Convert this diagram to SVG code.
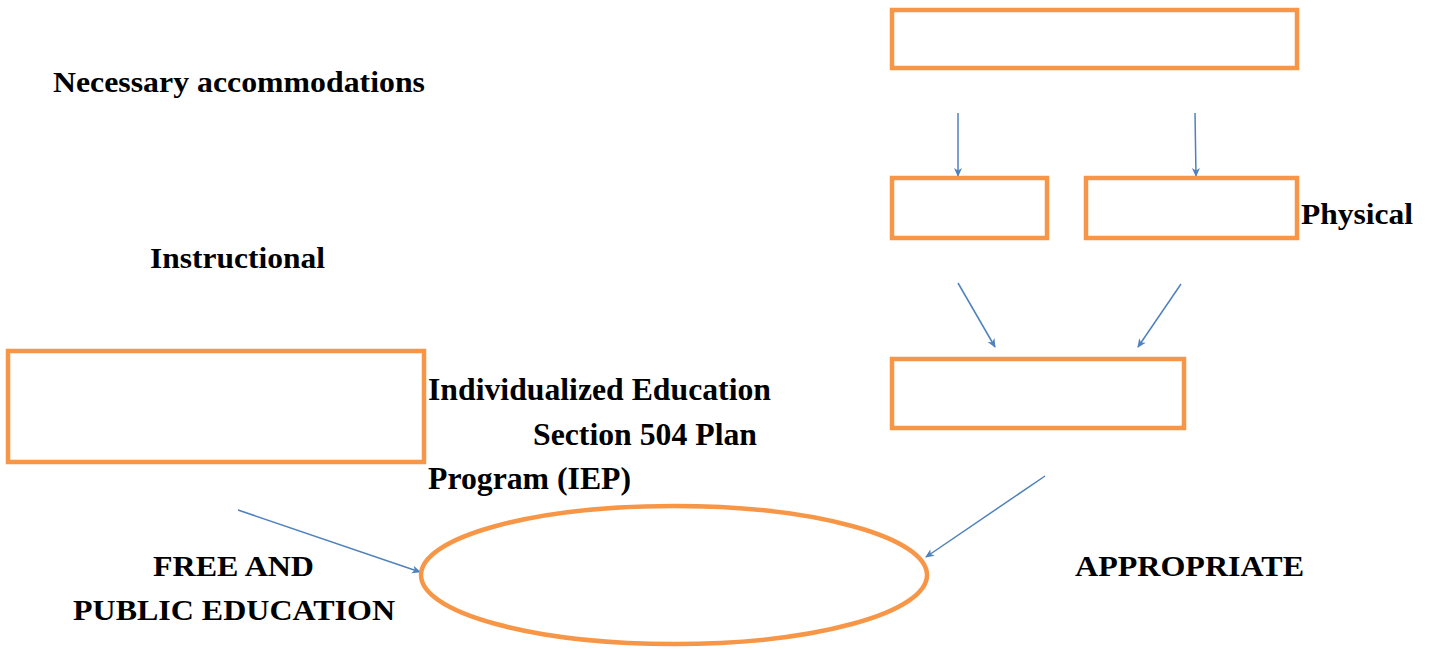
<svg xmlns="http://www.w3.org/2000/svg" width="1433" height="650" viewBox="0 0 1433 650">
<style>
.box{fill:#fff;stroke:#F79646;stroke-width:4.5}
.lbl{font-family:"Liberation Serif","Times New Roman",serif;font-weight:bold;font-size:29px;fill:#000}
.big{font-size:32px}
.con{stroke:#4F81BD;stroke-width:1.5;fill:none;marker-end:url(#ah)}
</style>
<defs>
<marker id="ah" markerWidth="9" markerHeight="9" refX="8" refY="4.5" orient="auto" markerUnits="userSpaceOnUse">
<path d="M0,0.5 L9,4.5 L0,8.5 L2.5,4.5 Z" fill="#4F81BD"/>
</marker>
</defs>
<rect width="1433" height="650" fill="#fff"/>
<g id="connectors">
<line class="con" x1="958" y1="113" x2="958" y2="176"/>
<line class="con" x1="1195" y1="113" x2="1196" y2="176"/>
<line class="con" x1="958" y1="283" x2="995" y2="347"/>
<line class="con" x1="1181" y1="284" x2="1138" y2="347"/>
<line class="con" x1="238" y1="510" x2="420" y2="572"/>
<line class="con" x1="1045" y1="476" x2="926" y2="557"/>
</g>
<g id="top-box"><rect class="box" x="892" y="10" width="405" height="58"/></g>
<g id="box-left-small"><rect class="box" x="892" y="178" width="155" height="60"/></g>
<g id="box-right-small"><rect class="box" x="1086" y="178" width="211" height="60"/></g>
<g id="box-middle"><rect class="box" x="892" y="359" width="292" height="69"/></g>
<g id="box-left"><rect class="box" x="8" y="351" width="416" height="111"/></g>
<g id="ellipse"><ellipse cx="674" cy="575" rx="253" ry="69" fill="#fff" stroke="#F79646" stroke-width="4.5"/></g>
<g id="labels">
<text class="lbl" x="53" y="92" textLength="372" lengthAdjust="spacingAndGlyphs">Necessary accommodations</text>
<text class="lbl" x="150" y="268" textLength="175" lengthAdjust="spacingAndGlyphs">Instructional</text>
<text class="lbl" x="1301" y="224" textLength="112" lengthAdjust="spacingAndGlyphs">Physical</text>
<text class="lbl big" x="428" y="400" textLength="343" lengthAdjust="spacingAndGlyphs">Individualized Education</text>
<text class="lbl big" x="533" y="445" textLength="224" lengthAdjust="spacingAndGlyphs">Section 504 Plan</text>
<text class="lbl big" x="428" y="489" textLength="203" lengthAdjust="spacingAndGlyphs">Program (IEP)</text>
<text class="lbl" x="153" y="576" textLength="161" lengthAdjust="spacingAndGlyphs">FREE AND</text>
<text class="lbl" x="73" y="620" textLength="322" lengthAdjust="spacingAndGlyphs">PUBLIC EDUCATION</text>
<text class="lbl" x="1075" y="576" textLength="229" lengthAdjust="spacingAndGlyphs">APPROPRIATE</text>
</g>
</svg>
